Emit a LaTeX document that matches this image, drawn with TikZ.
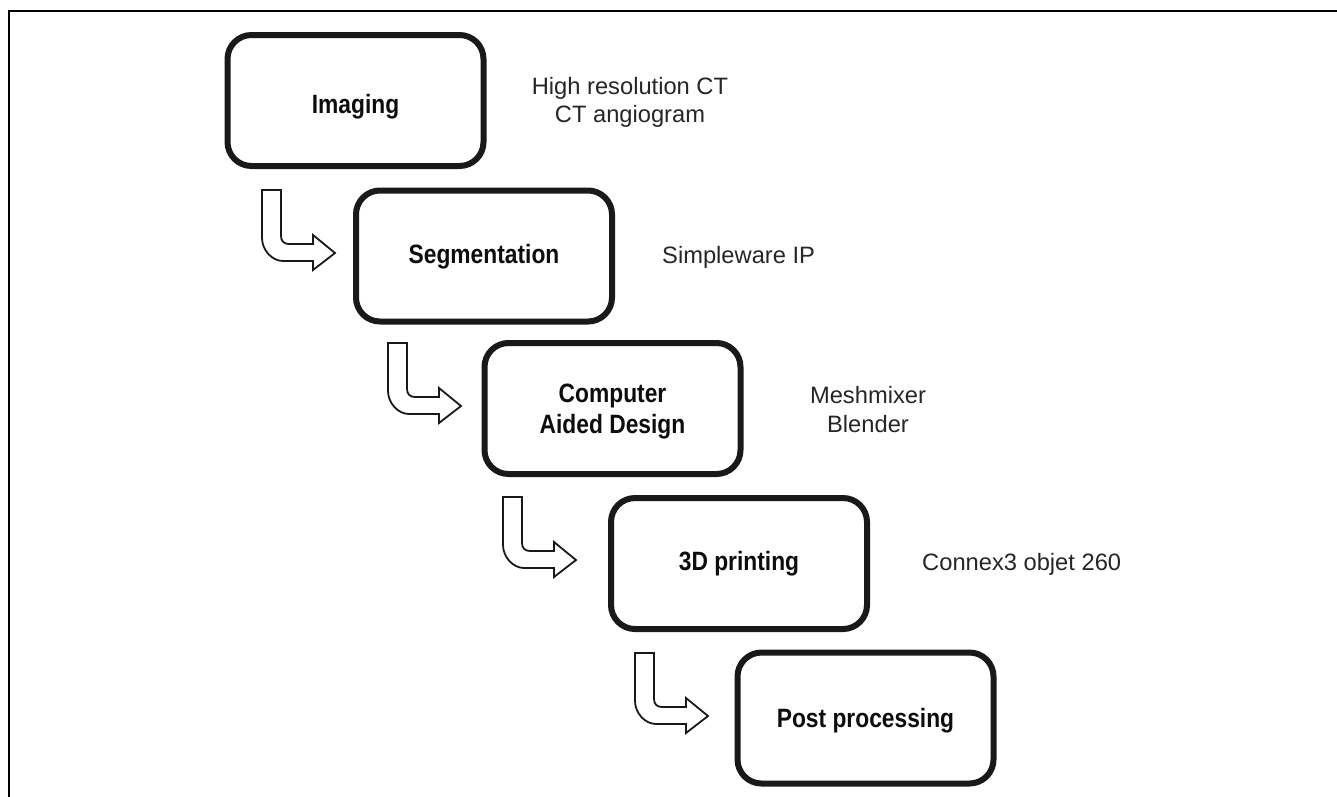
\documentclass[tikz,border=0pt]{standalone}
\usepackage{fontspec}
\setmainfont{Liberation Sans}
\newfontfamily\boldcond[FakeStretch=0.86]{Liberation Sans}
\tikzset{
  stepbox/.style={draw=black!90, line width=6pt, rounded corners=24pt,
    minimum width=256pt, minimum height=131pt, inner sep=0pt,
    text height=18.5pt, text depth=0pt, align=center, text=black!95,
    font=\boldcond\bfseries\fontsize{26.5}{31}\selectfont},
  note/.style={inner sep=0pt, text height=17pt, text depth=0pt, align=center,
    text=black!85, font=\fontsize{23.7}{28}\selectfont},
  bentarrow/.pic={
    \draw[line width=1.8pt, draw=black!90, fill=white, line join=miter]
      (0,0) -- (19,0) -- (19,46) .. controls (19,51) and (22,54) .. (27,54)
      -- (51,54) -- (51,45) -- (73,63) -- (51,80) -- (51,71) -- (21,71)
      .. controls (10,71) and (0,60) .. (0,48) -- cycle;
  }
}
\begin{document}
\begin{tikzpicture}[x=1pt,y=-1pt]
\useasboundingbox (0,0) rectangle (1337,796);
\fill[white] (0,0) rectangle (1337,796);
\draw[line width=2pt] (9,800) -- (9,11) -- (1340,11);

\node[stepbox, text height=25pt] (img) at (355.5,100.5) {Imaging};
\node[stepbox, text height=14pt] (seg) at (484,256) {Segmentation};
\node[stepbox, text height=49.5pt] (cad) at (612.5,408.5) {Computer\\Aided Design};
\node[stepbox, text height=13pt] (print) at (739,563.5) {3D printing};
\node[stepbox, text height=18pt] (post) at (865.5,718) {Post processing};

\pic (ar1) at (262,190) {bentarrow};
\pic (ar2) at (388,343) {bentarrow};
\pic (ar3) at (503,497) {bentarrow};
\pic (ar4) at (635,653) {bentarrow};

\node[note, text height=45pt] (n1) at (630,99.5) {High resolution CT\\CT angiogram};
\node[note, anchor=west] (n2) at (662,254.5) {Simpleware IP};
\node[note, text height=46pt, font=\fontsize{23.7}{29}\selectfont] (n3) at (868,409) {Meshmixer\\Blender};
\node[note, anchor=west] (n4) at (922,561.5) {Connex3 objet 260};
\end{tikzpicture}
\end{document}
